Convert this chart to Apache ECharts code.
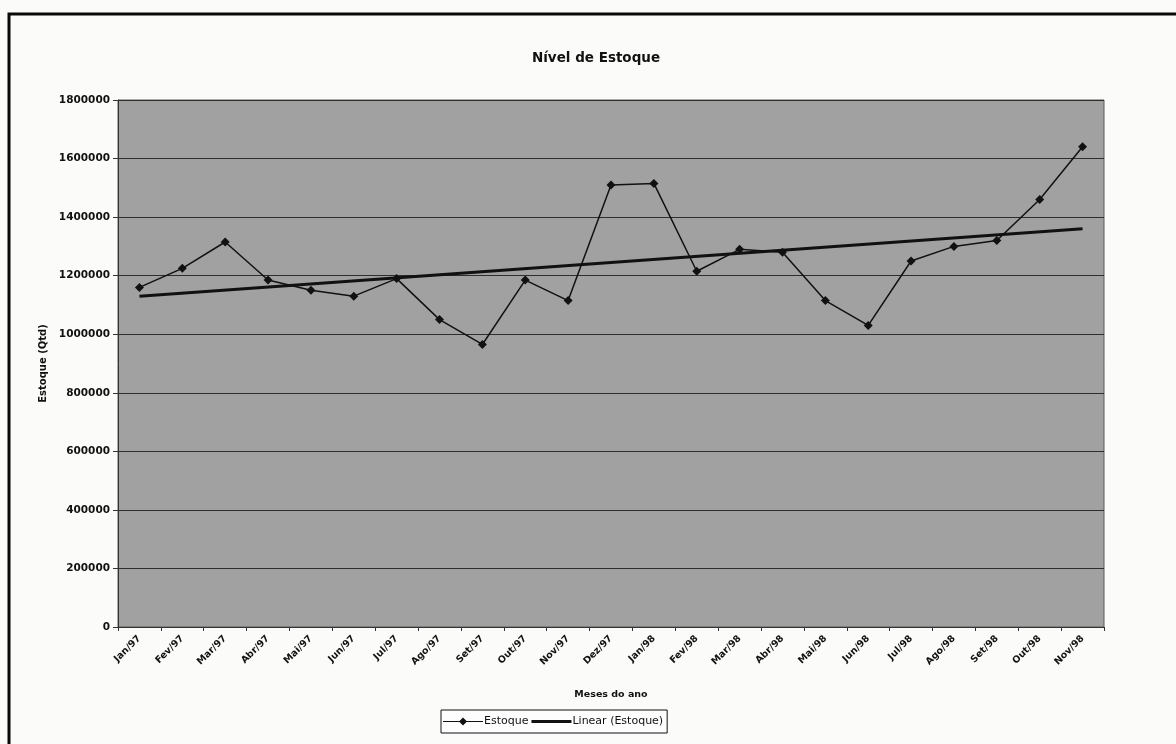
<!DOCTYPE html>
<html>
<head>
<meta charset="utf-8">
<title>Nível de Estoque</title>
<script src="https://cdn.jsdelivr.net/npm/echarts@6/dist/echarts.min.js"></script>
<style>
  html, body { margin: 0; padding: 0; background: #fbfbf9; }
  #chart { width: 1176px; height: 744px; }
</style>
</head>
<body>
<div id="chart"></div>
<script>
// Monthly stock levels, Jan/97 – Nov/98
const months = ['Jan/97', 'Fev/97', 'Mar/97', 'Abr/97', 'Mai/97', 'Jun/97', 'Jul/97', 'Ago/97',
  'Set/97', 'Out/97', 'Nov/97', 'Dez/97', 'Jan/98', 'Fev/98', 'Mar/98', 'Abr/98', 'Mai/98',
  'Jun/98', 'Jul/98', 'Ago/98', 'Set/98', 'Out/98', 'Nov/98'];
const estoque = [1160000, 1225000, 1315000, 1185000, 1150000, 1130000, 1190000, 1050000,
  965000, 1185000, 1115000, 1510000, 1515000, 1215000, 1290000, 1280000, 1115000,
  1030000, 1250000, 1300000, 1320000, 1460000, 1640000];
// Linear trend line end points (first and last month)
const trendMonths = ['Jan/97', 'Nov/98'];
const trendValues = [1130000, 1360000];
const yTicks = [0, 200000, 400000, 600000, 800000, 1000000, 1200000, 1400000, 1600000, 1800000];

const chart = echarts.init(document.getElementById('chart'), null, { renderer: 'canvas' });
const boldFont = '"DejaVu Sans", Verdana, sans-serif';
const plainFont = '"DejaVu Sans", Arial, sans-serif';

chart.setOption({
  backgroundColor: '#fbfbf9',
  animation: false,
  title: {
    text: 'Nível de Estoque',
    left: 591,
    textAlign: 'center',
    top: 46,
    textStyle: { fontFamily: boldFont, fontSize: 13.5, fontWeight: 'bold', color: '#111' }
  },
  grid: { left: 118, right: 72, top: 100, bottom: 117, containLabel: false,
    show: true, backgroundColor: '#a1a1a1', borderColor: '#5a5a5a', borderWidth: 1 },
  legend: {
    data: [
      { name: 'Estoque', icon: 'path://M0,4.4 L40,4.4 L40,5.6 L0,5.6 Z M16,5 L20,1 L24,5 L20,9 Z' },
      { name: 'Linear (Estoque)', icon: 'path://M0,3.5 L40,3.5 L40,6.5 L0,6.5 Z' }
    ],
    top: 710,
    left: 441,
    itemGap: 3,
    itemWidth: 40,
    itemHeight: 10,
    padding: [6, 4, 6, 2],
    borderColor: '#111',
    borderWidth: 1,
    borderRadius: 0,
    backgroundColor: '#fdfdfd',
    textStyle: { fontFamily: plainFont, fontSize: 11, color: '#111', padding: [0, 0, 0, -4] }
  },
  xAxis: {
    type: 'category',
    data: months,
    boundaryGap: true,
    name: 'Meses do ano',
    nameLocation: 'middle',
    nameGap: 63,
    nameTextStyle: { fontFamily: boldFont, fontSize: 9.5, fontWeight: 'bold', color: '#111' },
    axisLine: { show: true, lineStyle: { color: '#333', width: 1 } },
    axisTick: { show: true, inside: false, length: 4, alignWithLabel: false, lineStyle: { color: '#333' } },
    axisLabel: { rotate: 45, interval: 0, margin: 10, fontFamily: boldFont, fontSize: 9.5, fontWeight: 'bold', color: '#111' },
    splitLine: { show: false }
  },
  yAxis: {
    type: 'value',
    min: yTicks[0],
    max: yTicks[yTicks.length - 1],
    interval: yTicks[1] - yTicks[0],
    name: 'Estoque (Qtd)',
    nameLocation: 'middle',
    nameGap: 67,
    nameRotate: 90,
    nameTextStyle: { fontFamily: boldFont, fontSize: 10, fontWeight: 'bold', color: '#111' },
    axisLine: { show: true, lineStyle: { color: '#333', width: 1 } },
    axisTick: { show: true, length: 5, lineStyle: { color: '#333' } },
    axisLabel: { margin: 8, fontFamily: boldFont, fontSize: 10.5, fontWeight: 'bold', color: '#111',
      formatter: v => String(v) },
    splitLine: { show: true, lineStyle: { color: '#2e2e2e', width: 1 } }
  },
  series: [
    {
      name: 'Estoque',
      type: 'line',
      data: estoque,
      symbol: 'diamond',
      symbolSize: 9,
      itemStyle: { color: '#111' },
      lineStyle: { color: '#111', width: 1.5 },
      z: 3
    },
    {
      name: 'Linear (Estoque)',
      type: 'line',
      data: trendMonths.map((m, i) => [m, trendValues[i]]),
      symbol: 'none',
      itemStyle: { color: '#111' },
      lineStyle: { color: '#111', width: 3 },
      z: 2
    }
  ],
  graphic: [
    {
      type: 'polyline',
      shape: { points: [[9, 744], [9, 14], [1176, 14]] },
      style: { stroke: '#0a0a0a', lineWidth: 3, fill: null }
    }
  ]
});
</script>
</body>
</html>
